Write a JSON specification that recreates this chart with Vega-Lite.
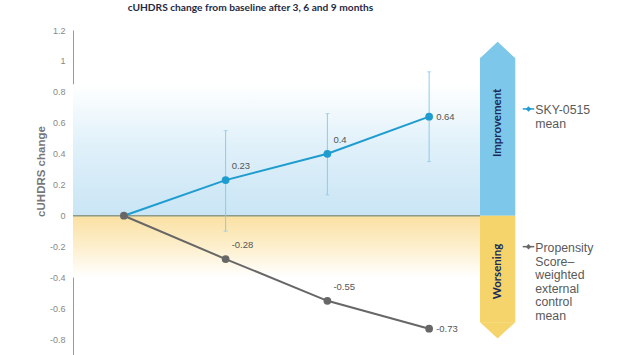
{
  "$schema": "https://vega.github.io/schema/vega-lite/v6.json",
  "width": 407,
  "height": 325,
  "autosize": {"type": "none"},
  "padding": {"left": 73, "top": 30, "right": 147, "bottom": 0},
  "background": "white",
  "config": {"view": {"stroke": null}, "axisY": {"labelOverlap": false, "tickCount": 11}},
  "title": {
    "text": "cUHDRS change from baseline after 3, 6 and 9 months",
    "font": "Lato", "fontSize": 10.2, "fontWeight": "bold", "color": "#1f2a44",
    "anchor": "middle", "dx": -26, "offset": 13
  },
  "datasets": {
    "means": [
      {"series": "SKY-0515", "month": 0, "value": 0},
      {"series": "SKY-0515", "month": 3, "value": 0.23},
      {"series": "SKY-0515", "month": 6, "value": 0.4},
      {"series": "SKY-0515", "month": 9, "value": 0.64},
      {"series": "Control", "month": 0, "value": 0},
      {"series": "Control", "month": 3, "value": -0.28},
      {"series": "Control", "month": 6, "value": -0.55},
      {"series": "Control", "month": 9, "value": -0.73}
    ],
    "ci": [
      {"month": 3, "lo": -0.1, "hi": 0.55},
      {"month": 6, "lo": 0.135, "hi": 0.66},
      {"month": 9, "lo": 0.35, "hi": 0.93}
    ]
  },
  "layer": [
    {
      "data": {"values": [{}]},
      "mark": {"type": "rect", "color": {"gradient": "linear", "x1": 0, "y1": 1, "x2": 0, "y2": 0,
        "stops": [{"offset": 0, "color": "#c9e5f5"}, {"offset": 0.55, "color": "#e1f1fa"}, {"offset": 1, "color": "#ffffff"}]}},
      "encoding": {
        "x": {"datum": -1.5, "type": "quantitative", "scale": {"domain": [-1.5, 10.5], "nice": false, "zero": false}, "axis": null},
        "x2": {"datum": 10.5},
        "y": {"datum": 0, "type": "quantitative", "scale": {"domain": [-0.9, 1.2], "nice": false, "zero": false},
          "axis": {
            "values": [-0.8, -0.6, -0.4, -0.2, 0, 0.2, 0.4, 0.6, 0.8, 1, 1.2],
            "labelExpr": "'' + datum.value",
            "labelOverlap": false,
            "ticks": false, "labelPadding": 8, "labelFlush": false,
            "labelFont": "Liberation Sans", "labelFontSize": 9, "labelColor": "#888888",
            "domainColor": "#9a9a9a", "domainWidth": 1, "grid": false,
            "title": "cUHDRS change", "titleFont": "Liberation Sans", "titleFontSize": 11.5,
            "titleFontWeight": "bold", "titleColor": "#777777",
            "titleX": -32, "titleY": 141, "titleAngle": -90, "titleAlign": "center", "titleBaseline": "middle"
          }},
        "y2": {"datum": 0.85}
      }
    },
    {
      "data": {"values": [{}]},
      "mark": {"type": "rect", "color": {"gradient": "linear", "x1": 0, "y1": 0, "x2": 0, "y2": 1,
        "stops": [{"offset": 0, "color": "#fae0a2"}, {"offset": 0.5, "color": "#fdefcd"}, {"offset": 1, "color": "#ffffff"}]}},
      "encoding": {
        "x": {"datum": -1.5, "type": "quantitative"},
        "x2": {"datum": 10.5},
        "y": {"datum": 0, "type": "quantitative"},
        "y2": {"datum": -0.4}
      }
    },
    {
      "data": {"values": [{}]},
      "mark": {"type": "rule", "color": "#8c9a8a", "strokeWidth": 1.5},
      "encoding": {
        "x": {"datum": -1.5, "type": "quantitative"},
        "x2": {"datum": 10.5},
        "y": {"datum": 0, "type": "quantitative"}
      }
    },
    {
      "data": {"name": "ci"},
      "mark": {"type": "rule", "color": "#8ccbec", "strokeWidth": 1},
      "encoding": {
        "x": {"field": "month", "type": "quantitative"},
        "y": {"field": "lo", "type": "quantitative"},
        "y2": {"field": "hi"}
      }
    },
    {
      "data": {"name": "ci"},
      "mark": {"type": "tick", "orient": "horizontal", "color": "#8ccbec", "size": 4, "thickness": 1},
      "encoding": {
        "x": {"field": "month", "type": "quantitative"},
        "y": {"field": "lo", "type": "quantitative"}
      }
    },
    {
      "data": {"name": "ci"},
      "mark": {"type": "tick", "orient": "horizontal", "color": "#8ccbec", "size": 4, "thickness": 1},
      "encoding": {
        "x": {"field": "month", "type": "quantitative"},
        "y": {"field": "hi", "type": "quantitative"}
      }
    },
    {
      "data": {"name": "means"},
      "transform": [{"filter": "datum.series === 'SKY-0515'"}],
      "mark": {"type": "line", "color": "#1e9ccf", "strokeWidth": 2},
      "encoding": {
        "x": {"field": "month", "type": "quantitative"},
        "y": {"field": "value", "type": "quantitative"}
      }
    },
    {
      "data": {"name": "means"},
      "transform": [{"filter": "datum.series === 'SKY-0515' && datum.month > 0"}],
      "mark": {"type": "point", "filled": true, "color": "#1e9ccf", "size": 60, "opacity": 1},
      "encoding": {
        "x": {"field": "month", "type": "quantitative"},
        "y": {"field": "value", "type": "quantitative"}
      }
    },
    {
      "data": {"name": "means"},
      "transform": [{"filter": "datum.series === 'Control'"}],
      "mark": {"type": "line", "color": "#676767", "strokeWidth": 2},
      "encoding": {
        "x": {"field": "month", "type": "quantitative"},
        "y": {"field": "value", "type": "quantitative"}
      }
    },
    {
      "data": {"name": "means"},
      "transform": [{"filter": "datum.series === 'Control'"}],
      "mark": {"type": "point", "filled": true, "color": "#676767", "size": 60, "opacity": 1},
      "encoding": {
        "x": {"field": "month", "type": "quantitative"},
        "y": {"field": "value", "type": "quantitative"}
      }
    },
    {
      "data": {"name": "means"},
      "transform": [{"filter": "datum.month > 0 && datum.month < 9"}],
      "mark": {"type": "text", "align": "left", "baseline": "middle", "dx": 6, "dy": -14,
        "font": "Liberation Sans", "fontSize": 9.5, "color": "#555555"},
      "encoding": {
        "x": {"field": "month", "type": "quantitative"},
        "y": {"field": "value", "type": "quantitative"},
        "text": {"field": "value", "type": "nominal"}
      }
    },
    {
      "data": {"name": "means"},
      "transform": [{"filter": "datum.month === 9"}],
      "mark": {"type": "text", "align": "left", "baseline": "middle", "dx": 7, "dy": 0,
        "font": "Liberation Sans", "fontSize": 9.5, "color": "#555555"},
      "encoding": {
        "x": {"field": "month", "type": "quantitative"},
        "y": {"field": "value", "type": "quantitative"},
        "text": {"field": "value", "type": "nominal"}
      }
    },
    {
      "data": {"values": [{}]},
      "mark": {"type": "rect", "color": "#7cc7ea"},
      "encoding": {
        "x": {"datum": 10.5, "type": "quantitative"},
        "x2": {"datum": 11.54},
        "y": {"datum": 0, "type": "quantitative"},
        "y2": {"datum": 1.02}
      }
    },
    {
      "data": {"values": [{}]},
      "mark": {"type": "point", "shape": "M-1,0.02L0,-0.91L1,0.02Z", "filled": true, "color": "#7cc7ea", "size": 1239, "opacity": 1, "strokeWidth": 0},
      "encoding": {
        "x": {"datum": 11.02, "type": "quantitative"},
        "y": {"datum": 1.02, "type": "quantitative"}
      }
    },
    {
      "data": {"values": [{}]},
      "mark": {"type": "rect", "color": "#f5d46c"},
      "encoding": {
        "x": {"datum": 10.5, "type": "quantitative"},
        "x2": {"datum": 11.54},
        "y": {"datum": -0.69, "type": "quantitative"},
        "y2": {"datum": 0}
      }
    },
    {
      "data": {"values": [{}]},
      "mark": {"type": "point", "shape": "M-1,-0.02L0,0.91L1,-0.02Z", "filled": true, "color": "#f5d46c", "size": 1239, "opacity": 1, "strokeWidth": 0},
      "encoding": {
        "x": {"datum": 11.02, "type": "quantitative"},
        "y": {"datum": -0.69, "type": "quantitative"}
      }
    },
    {
      "data": {"values": [{"t": "Improvement", "y": 0.6}, {"t": "Worsening", "y": -0.36}]},
      "mark": {"type": "text", "angle": 270, "align": "center", "baseline": "middle",
        "font": "Lato", "fontSize": 11.5, "fontWeight": "bold", "color": "#1c2a58"},
      "encoding": {
        "x": {"datum": 11.02, "type": "quantitative"},
        "y": {"field": "y", "type": "quantitative"},
        "text": {"field": "t", "type": "nominal"}
      }
    },
    {
      "data": {"values": [{}]},
      "mark": {"type": "rule", "color": "#1e9ccf", "strokeWidth": 1.5},
      "encoding": {
        "x": {"datum": 11.76, "type": "quantitative"},
        "x2": {"datum": 12.1},
        "y": {"datum": 0.69, "type": "quantitative"}
      }
    },
    {
      "data": {"values": [{}]},
      "mark": {"type": "point", "shape": "diamond", "filled": true, "color": "#1e9ccf", "size": 30, "opacity": 1},
      "encoding": {
        "x": {"datum": 11.93, "type": "quantitative"},
        "y": {"datum": 0.69, "type": "quantitative"}
      }
    },
    {
      "data": {"values": [{}]},
      "mark": {"type": "rule", "color": "#676767", "strokeWidth": 1.5},
      "encoding": {
        "x": {"datum": 11.76, "type": "quantitative"},
        "x2": {"datum": 12.1},
        "y": {"datum": -0.2, "type": "quantitative"}
      }
    },
    {
      "data": {"values": [{}]},
      "mark": {"type": "point", "shape": "diamond", "filled": true, "color": "#676767", "size": 30, "opacity": 1},
      "encoding": {
        "x": {"datum": 11.93, "type": "quantitative"},
        "y": {"datum": -0.2, "type": "quantitative"}
      }
    },
    {
      "data": {"values": [
        {"t": "SKY-0515\nmean", "y": 0.72},
        {"t": "Propensity\nScore–\nweighted\nexternal\ncontrol\nmean", "y": -0.173}
      ]},
      "mark": {"type": "text", "align": "left", "baseline": "top", "lineBreak": "\n", "lineHeight": 13.5,
        "font": "Liberation Sans", "fontSize": 12.3, "color": "#5a5a5a"},
      "encoding": {
        "x": {"datum": 12.13, "type": "quantitative"},
        "y": {"field": "y", "type": "quantitative"},
        "text": {"field": "t", "type": "nominal"}
      }
    }
  ]
}
